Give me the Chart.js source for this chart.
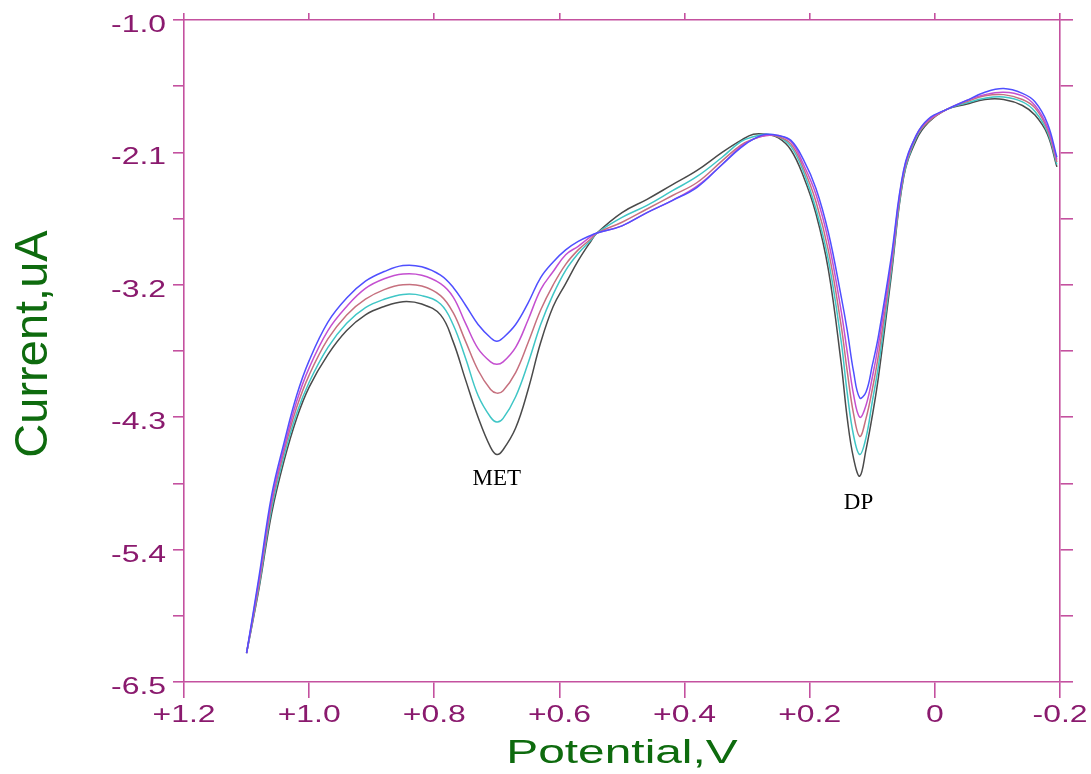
<!DOCTYPE html>
<html>
<head>
<meta charset="utf-8">
<script src="https://cdn.jsdelivr.net/npm/chart.js@4.4.0/dist/chart.umd.min.js"></script>
<style>
  html, body { margin: 0; padding: 0; background: #fff; }
  #wrap { width: 1091px; height: 774px; position: relative; }
</style>
</head>
<body>
<div id="wrap"><canvas id="dpvChart"></canvas></div>
<script>
// scan potential (V), swept from +1.1 down to -0.2
const potentials = [1.10, 1.08, 1.06, 1.04, 1.02, 1.00, 0.97, 0.94, 0.91, 0.88, 0.85, 0.82, 0.79, 0.77, 0.75, 0.73, 0.71, 0.70, 0.69, 0.67,
    0.65, 0.63, 0.61, 0.59, 0.57, 0.55, 0.54, 0.50, 0.46, 0.42, 0.38, 0.34, 0.31, 0.29, 0.27, 0.25, 0.23, 0.21, 0.19, 0.17,
    0.15, 0.14, 0.13, 0.12, 0.11, 0.10, 0.09, 0.07, 0.05, 0.03, 0.01, -0.02, -0.05, -0.08, -0.11, -0.14, -0.16, -0.18, -0.195];

// current (uA) for each of the five runs
const run1 = [-6.26, -5.62, -4.95, -4.51, -4.12, -3.83, -3.51, -3.31, -3.17, -3.09, -3.04, -3.05, -3.12, -3.22, -3.37, -3.53, -3.64, -3.67, -3.64, -3.53,
    -3.35, -3.14, -3.01, -2.91, -2.84, -2.79, -2.77, -2.71, -2.60, -2.50, -2.39, -2.20, -2.06, -1.99, -1.95, -1.96, -2.00, -2.16, -2.40, -2.77,
    -3.29, -3.58, -3.92, -4.14, -4.09, -3.87, -3.62, -2.98, -2.25, -1.96, -1.82, -1.74, -1.67, -1.60, -1.57, -1.61, -1.68, -1.86, -2.14];
const run2 = [-6.26, -5.65, -4.99, -4.55, -4.17, -3.89, -3.58, -3.38, -3.23, -3.15, -3.11, -3.12, -3.19, -3.30, -3.52, -3.73, -3.84, -3.86, -3.84, -3.72,
    -3.49, -3.24, -3.09, -2.95, -2.88, -2.80, -2.77, -2.71, -2.60, -2.50, -2.38, -2.20, -2.05, -1.99, -1.96, -1.96, -2.01, -2.20, -2.45, -2.84,
    -3.41, -3.76, -4.11, -4.30, -4.20, -3.97, -3.69, -3.02, -2.26, -1.96, -1.83, -1.74, -1.67, -1.62, -1.60, -1.63, -1.71, -1.89, -2.16];
const run3 = [-6.26, -5.68, -5.02, -4.58, -4.22, -3.95, -3.65, -3.45, -3.32, -3.24, -3.20, -3.21, -3.29, -3.43, -3.67, -3.91, -4.07, -4.10, -4.08, -3.93,
    -3.68, -3.41, -3.20, -3.03, -2.91, -2.82, -2.77, -2.68, -2.57, -2.46, -2.35, -2.17, -2.04, -1.99, -1.96, -1.97, -2.03, -2.23, -2.51, -2.92,
    -3.53, -3.92, -4.27, -4.46, -4.31, -4.07, -3.78, -3.06, -2.28, -1.97, -1.84, -1.74, -1.68, -1.63, -1.62, -1.66, -1.73, -1.91, -2.18];
const run4 = [-6.26, -5.70, -5.06, -4.62, -4.27, -4.01, -3.72, -3.52, -3.39, -3.32, -3.28, -3.29, -3.36, -3.53, -3.81, -4.12, -4.30, -4.34, -4.31, -4.13,
    -3.85, -3.53, -3.28, -3.08, -2.94, -2.83, -2.77, -2.64, -2.54, -2.42, -2.30, -2.14, -2.01, -1.97, -1.95, -1.97, -2.05, -2.26, -2.57, -3.00,
    -3.66, -4.10, -4.45, -4.61, -4.47, -4.17, -3.87, -3.10, -2.30, -1.98, -1.84, -1.74, -1.69, -1.65, -1.64, -1.68, -1.76, -1.93, -2.20];
const run5 = [-6.26, -5.72, -5.10, -4.66, -4.31, -4.05, -3.78, -3.58, -3.45, -3.38, -3.34, -3.36, -3.45, -3.67, -3.99, -4.30, -4.55, -4.61, -4.57, -4.39,
    -4.07, -3.68, -3.38, -3.19, -3.00, -2.84, -2.77, -2.60, -2.49, -2.37, -2.25, -2.10, -2.00, -1.95, -1.95, -1.98, -2.08, -2.30, -2.61, -3.08,
    -3.84, -4.31, -4.64, -4.79, -4.57, -4.29, -3.96, -3.14, -2.31, -2.00, -1.85, -1.74, -1.70, -1.66, -1.66, -1.71, -1.79, -1.95, -2.22];

const runColors = ['#4f4fff', '#c44fd0', '#c6707e', '#3fc6c6', '#4a4a4a'];

const xTicks = [1.2, 1.0, 0.8, 0.6, 0.4, 0.2, 0, -0.2];
const xTickLabels = ['+1.2', '+1.0', '+0.8', '+0.6', '+0.4', '+0.2', '0', '-0.2'];
const yTicks = [-6.5, -5.95, -5.4, -4.85, -4.3, -3.75, -3.2, -2.65, -2.1, -1.55, -1.0];
const yTickLabels = ['-6.5', '', '-5.4', '', '-4.3', '', '-3.2', '', '-2.1', '', '-1.0'];

const peakNames = ['MET', 'DP'];
const peakPotentials = [0.70, 0.122];
const peakCurrents = [-4.86, -5.06];

const axisColor = '#c4519f';
const tickTextColor = '#8a1a6e';
const titleColor = '#0e6b0e';

function toPoints(values) {
    return values.map((v, i) => ({ x: potentials[i], y: v }));
}

function fixedTicks(values) {
    return function (scale) {
        scale.ticks = values.map(v => ({ value: v }));
    };
}

function axisScale(position, values, tickLength, extra) {
    return Object.assign({
        type: 'linear',
        position: position,
        afterBuildTicks: fixedTicks(values),
        ticks: { display: false },
        grid: { drawOnChartArea: false, drawTicks: true, tickLength: tickLength, color: axisColor, lineWidth: 1.6 },
        border: { display: true, color: axisColor, width: 1.6 }
    }, extra);
}

// text in this plot is drawn a bit wider than normal
function drawWide(ctx, text, x, y, align, sx) {
    ctx.save();
    ctx.translate(x, y);
    ctx.scale(sx, 1);
    ctx.textAlign = align;
    ctx.fillText(text, 0, 0);
    ctx.restore();
}

const labelPlugin = {
    id: 'labelPlugin',
    afterDraw(chart) {
        const ctx = chart.ctx;
        const xs = chart.scales.x;
        const ys = chart.scales.y;
        const area = chart.chartArea;
        ctx.save();
        ctx.textBaseline = 'alphabetic';

        ctx.fillStyle = tickTextColor;
        ctx.font = '24px "Liberation Sans", Arial, sans-serif';
        xTicks.forEach((v, i) => {
            drawWide(ctx, xTickLabels[i], xs.getPixelForValue(v), area.bottom + 40, 'center', 1.33);
        });
        yTicks.forEach((v, i) => {
            if (yTickLabels[i]) {
                drawWide(ctx, yTickLabels[i], area.left - 18, ys.getPixelForValue(v) + 12, 'right', 1.33);
            }
        });

        ctx.fillStyle = titleColor;
        ctx.font = '33px "Liberation Sans", Arial, sans-serif';
        drawWide(ctx, 'Potential,V', (area.left + area.right) / 2, area.bottom + 81, 'center', 1.45);

        ctx.save();
        ctx.font = '47px "Liberation Sans", Arial, sans-serif';
        ctx.translate(47, (area.top + area.bottom) / 2 - 7);
        ctx.rotate(-Math.PI / 2);
        ctx.textAlign = 'center';
        ctx.fillText('Current,uA', 0, 0);
        ctx.restore();

        ctx.fillStyle = '#000';
        ctx.font = '23px "Liberation Serif", "Times New Roman", serif';
        ctx.textAlign = 'center';
        peakNames.forEach((name, i) => {
            ctx.fillText(name, xs.getPixelForValue(peakPotentials[i]), ys.getPixelForValue(peakCurrents[i]));
        });
        ctx.restore();
    }
};

const runs = [run1, run2, run3, run4, run5];

new Chart(document.getElementById('dpvChart'), {
    type: 'line',
    data: {
        datasets: runs.map((r, i) => ({
            data: toPoints(r),
            borderColor: runColors[i],
            borderWidth: 1.5,
            pointRadius: 0,
            fill: false,
            tension: 0.4,
            xAxisID: 'x',
            yAxisID: 'y'
        }))
    },
    options: {
        responsive: true,
        maintainAspectRatio: false,
        animation: false,
        layout: { padding: { left: 173, right: 18, top: 13, bottom: 76 } },
        plugins: { legend: { display: false }, tooltip: { enabled: false } },
        scales: {
            x: axisScale('bottom', xTicks, 16, { min: -0.2, max: 1.2, reverse: true }),
            x2: axisScale('top', xTicks, 7, { min: -0.2, max: 1.2, reverse: true }),
            y: axisScale('left', yTicks, 11, { min: -6.5, max: -1.0 }),
            y2: axisScale('right', yTicks, 13, { min: -6.5, max: -1.0 })
        }
    },
    plugins: [labelPlugin]
});
</script>
</body>
</html>
